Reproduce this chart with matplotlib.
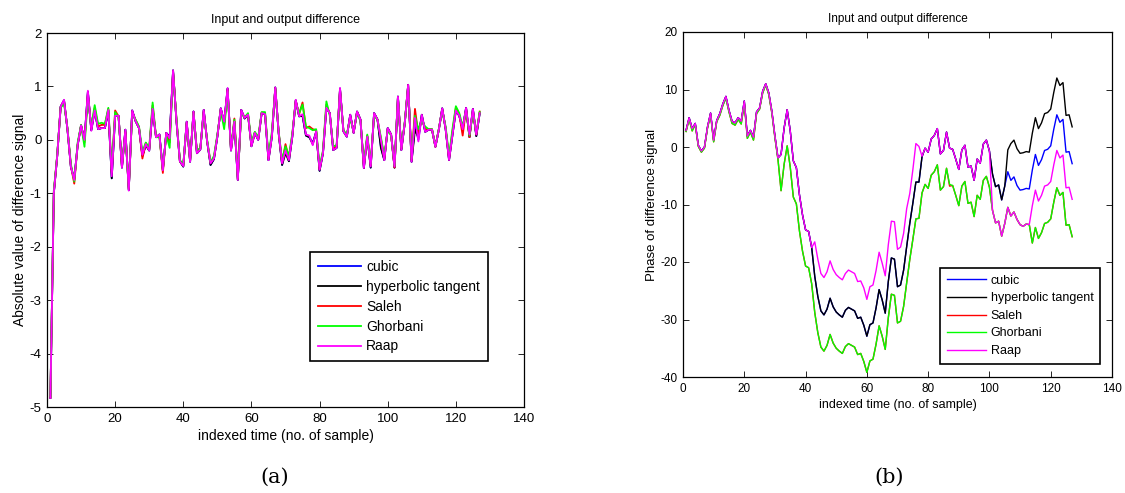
import matplotlib
matplotlib.use("Agg")
import matplotlib.pyplot as plt

plt.rcParams['font.family'] = ['Liberation Sans', 'DejaVu Sans']
plt.rcParams['axes.unicode_minus'] = False

# ---------------- data ----------------
sample_idx = list(range(1, 128))
series_names = ["cubic", "hyperbolic tangent", "Saleh", "Ghorbani", "Raap"]
series_colors = ["#0000ff", "#000000", "#ff0000", "#00ff00", "#ff00ff"]

# (a) absolute value of difference signal
cubic_abs = [
    -4.83, -1.00, -0.30, 0.62, 0.74, 0.20, -0.50, -0.74, -0.10, 0.27,
    0.00, 0.90, 0.18, 0.55, 0.20, 0.22, 0.22, 0.55, -0.72, 0.45,
    0.45, -0.52, 0.19, -0.94, 0.55, 0.35, 0.22, -0.30, -0.10, -0.20,
    0.58, 0.05, 0.10, -0.57, 0.13, 0.05, 1.30, 0.35, -0.40, -0.50,
    0.34, -0.41, 0.53, -0.25, -0.18, 0.56, -0.03, -0.47, -0.36, 0.06,
    0.59, 0.32, 0.96, -0.20, 0.34, -0.75, 0.56, 0.40, 0.47, -0.12,
    0.13, 0.00, 0.50, 0.48, -0.38, 0.06, 0.98, 0.12, -0.47, -0.18,
    -0.40, 0.06, 0.74, 0.44, 0.45, 0.08, 0.05, -0.06, 0.15, -0.58,
    -0.25, 0.60, 0.50, -0.19, -0.15, 0.96, 0.16, 0.06, 0.47, 0.13,
    0.53, 0.38, -0.53, 0.06, -0.52, 0.50, 0.38, -0.13, -0.38, 0.22,
    0.10, -0.52, 0.81, -0.19, 0.31, 1.03, -0.41, 0.28, 0.00, 0.47,
    0.15, 0.19, 0.19, -0.13, 0.19, 0.59, 0.20, -0.38, 0.09, 0.55,
    0.45, 0.20, 0.60, 0.05, 0.58, 0.07, 0.50]
tanh_abs = [
    -4.83, -1.00, -0.30, 0.62, 0.74, 0.20, -0.50, -0.74, -0.10, 0.27,
    0.00, 0.90, 0.18, 0.55, 0.20, 0.22, 0.22, 0.55, -0.72, 0.45,
    0.45, -0.52, 0.19, -0.94, 0.55, 0.35, 0.22, -0.30, -0.10, -0.20,
    0.58, 0.05, 0.10, -0.57, 0.13, 0.05, 1.30, 0.35, -0.40, -0.50,
    0.34, -0.41, 0.53, -0.25, -0.18, 0.56, -0.03, -0.47, -0.36, 0.06,
    0.59, 0.32, 0.96, -0.20, 0.34, -0.75, 0.56, 0.40, 0.47, -0.12,
    0.13, 0.00, 0.50, 0.48, -0.38, 0.06, 0.98, 0.12, -0.47, -0.25,
    -0.40, 0.06, 0.74, 0.44, 0.45, 0.08, 0.05, -0.08, 0.15, -0.58,
    -0.25, 0.60, 0.50, -0.19, -0.15, 0.96, 0.16, 0.06, 0.47, 0.13,
    0.53, 0.38, -0.53, 0.06, -0.52, 0.50, 0.38, -0.15, -0.38, 0.22,
    0.10, -0.52, 0.81, -0.19, 0.31, 1.03, -0.41, 0.19, 0.05, 0.47,
    0.15, 0.19, 0.19, -0.13, 0.19, 0.59, 0.20, -0.38, 0.09, 0.55,
    0.45, 0.20, 0.60, 0.05, 0.58, 0.07, 0.50]
saleh_abs = [
    -4.82, -0.98, -0.29, 0.61, 0.72, 0.21, -0.48, -0.82, -0.08, 0.27,
    -0.05, 0.85, 0.22, 0.60, 0.25, 0.28, 0.28, 0.58, -0.60, 0.55,
    0.44, -0.50, 0.15, -0.92, 0.52, 0.37, 0.24, -0.35, -0.06, -0.18,
    0.65, 0.05, 0.08, -0.62, 0.12, -0.05, 1.28, 0.38, -0.40, -0.48,
    0.32, -0.40, 0.52, -0.22, -0.16, 0.53, -0.02, -0.43, -0.33, 0.08,
    0.57, 0.28, 0.94, -0.18, 0.40, -0.73, 0.53, 0.42, 0.48, -0.10,
    0.14, 0.02, 0.51, 0.50, -0.35, 0.10, 0.97, 0.14, -0.42, -0.08,
    -0.35, 0.10, 0.73, 0.48, 0.70, 0.22, 0.25, 0.20, 0.18, -0.55,
    -0.22, 0.66, 0.48, -0.15, -0.12, 0.94, 0.17, 0.08, 0.44, 0.14,
    0.52, 0.37, -0.50, 0.08, -0.48, 0.48, 0.38, 0.02, -0.35, 0.20,
    0.09, -0.52, 0.80, -0.17, 0.32, 1.02, -0.38, 0.58, 0.10, 0.40,
    0.20, 0.20, 0.20, -0.13, 0.20, 0.57, 0.22, -0.35, 0.15, 0.60,
    0.48, 0.08, 0.58, 0.05, 0.55, 0.10, 0.53]
ghorbani_abs = [
    -4.80, -0.95, -0.28, 0.60, 0.68, 0.22, -0.45, -0.78, -0.05, 0.28,
    -0.13, 0.80, 0.25, 0.65, 0.30, 0.32, 0.30, 0.60, -0.55, 0.52,
    0.42, -0.45, 0.10, -0.88, 0.50, 0.38, 0.25, -0.22, -0.05, -0.15,
    0.70, 0.05, 0.05, -0.55, 0.10, -0.15, 1.25, 0.40, -0.38, -0.45,
    0.30, -0.38, 0.50, -0.20, -0.15, 0.50, 0.00, -0.42, -0.30, 0.10,
    0.55, 0.20, 0.90, -0.15, 0.38, -0.70, 0.50, 0.42, 0.50, -0.05,
    0.15, 0.05, 0.52, 0.52, -0.30, 0.15, 0.95, 0.15, -0.38, -0.12,
    -0.30, 0.12, 0.70, 0.50, 0.66, 0.25, 0.22, 0.18, 0.20, -0.50,
    -0.20, 0.72, 0.45, -0.12, -0.10, 0.90, 0.18, 0.10, 0.40, 0.15,
    0.50, 0.35, -0.45, 0.10, -0.45, 0.45, 0.38, 0.05, -0.30, 0.18,
    0.08, -0.48, 0.78, -0.15, 0.33, 1.00, -0.35, 0.45, 0.20, 0.35,
    0.25, 0.20, 0.20, -0.12, 0.20, 0.55, 0.25, -0.30, 0.20, 0.63,
    0.50, 0.25, 0.55, 0.08, 0.52, 0.12, 0.52]
raap_abs = [
    -4.83, -1.00, -0.30, 0.62, 0.75, 0.20, -0.50, -0.75, -0.10, 0.27,
    0.00, 0.92, 0.17, 0.55, 0.20, 0.22, 0.22, 0.56, -0.68, 0.45,
    0.45, -0.52, 0.19, -0.95, 0.55, 0.35, 0.22, -0.28, -0.08, -0.20,
    0.58, 0.05, 0.10, -0.57, 0.13, 0.03, 1.30, 0.35, -0.40, -0.49,
    0.34, -0.41, 0.53, -0.25, -0.18, 0.56, -0.03, -0.44, -0.35, 0.06,
    0.59, 0.34, 0.97, -0.20, 0.34, -0.75, 0.56, 0.41, 0.47, -0.12,
    0.13, 0.00, 0.50, 0.48, -0.38, 0.06, 0.98, 0.13, -0.44, -0.20,
    -0.38, 0.06, 0.75, 0.44, 0.48, 0.10, 0.08, -0.10, 0.16, -0.56,
    -0.25, 0.60, 0.50, -0.19, -0.15, 0.97, 0.16, 0.06, 0.47, 0.13,
    0.53, 0.38, -0.53, 0.06, -0.50, 0.50, 0.38, 0.00, -0.38, 0.22,
    0.10, -0.50, 0.81, -0.19, 0.31, 1.03, -0.41, 0.41, -0.03, 0.47,
    0.15, 0.19, 0.19, -0.13, 0.19, 0.59, 0.20, -0.38, 0.09, 0.55,
    0.45, 0.20, 0.60, 0.10, 0.58, 0.10, 0.50]

# (b) phase of difference signal
cubic_ph = [
    2.9, 5.1, 3.2, 4.1, 0.3, -0.7, 0.0, 3.5, 5.9, 1.2,
    4.6, 5.8, 7.5, 8.8, 6.4, 4.5, 4.2, 5.1, 4.5, 8.0,
    1.9, 2.9, 1.7, 6.1, 6.8, 9.7, 11.0, 9.4, 6.2, 1.9,
    -1.9, -1.3, 3.3, 6.5, 2.8, -2.4, -3.6, -8.3, -11.8, -14.4,
    -14.7, -17.5, -22.5, -26.0, -28.5, -29.2, -28.2, -26.3, -27.8, -28.7,
    -29.2, -29.6, -28.4, -27.9, -28.2, -28.5, -29.8, -29.6, -31.0, -32.9,
    -30.9, -30.6, -28.0, -24.8, -26.6, -28.9, -23.4, -19.3, -19.5, -24.3,
    -24.0, -21.4, -17.3, -13.3, -9.8, -6.1, -6.1, -1.7, -0.2, -0.9,
    1.4, 2.0, 3.2, -1.2, -0.6, 2.6, -0.2, -0.4, -2.1, -3.9,
    -0.5, 0.3, -3.5, -3.3, -5.8, -2.1, -2.8, 0.5, 1.2, -0.7,
    -4.7, -6.9, -6.6, -9.2, -6.8, -4.3, -5.8, -5.2, -6.7, -7.5,
    -7.4, -7.2, -7.3, -4.0, -1.3, -3.2, -2.2, -0.6, -0.4, 0.2,
    3.1, 5.6, 4.3, 4.8, -0.9, -0.8, -2.9]
tanh_ph = [
    2.9, 5.1, 3.2, 4.1, 0.3, -0.7, 0.0, 3.5, 5.9, 1.2,
    4.6, 5.8, 7.5, 8.8, 6.4, 4.5, 4.2, 5.1, 4.5, 8.0,
    1.9, 2.9, 1.7, 6.1, 6.8, 9.7, 11.0, 9.4, 6.2, 1.9,
    -1.9, -1.3, 3.3, 6.5, 2.8, -2.4, -3.6, -8.3, -11.8, -14.4,
    -14.7, -17.5, -22.5, -26.0, -28.5, -29.2, -28.2, -26.3, -27.8, -28.7,
    -29.2, -29.6, -28.4, -27.9, -28.2, -28.5, -29.8, -29.6, -31.0, -32.9,
    -30.9, -30.6, -28.0, -24.8, -26.6, -28.9, -23.4, -19.3, -19.5, -24.3,
    -24.0, -21.4, -17.3, -13.3, -9.8, -6.1, -6.1, -1.7, -0.2, -0.9,
    1.4, 2.0, 3.2, -1.2, -0.6, 2.6, -0.2, -0.4, -2.1, -3.9,
    -0.5, 0.3, -3.5, -3.3, -5.8, -2.1, -2.8, 0.5, 1.2, -0.7,
    -4.7, -6.9, -6.6, -9.2, -6.8, -0.5, 0.6, 1.2, -0.3, -1.1,
    -1.0, -0.8, -0.9, 2.4, 5.1, 3.2, 4.2, 5.8, 6.0, 6.6,
    9.5, 12.0, 10.7, 11.2, 5.5, 5.6, 3.5]
saleh_ph = [
    2.7, 4.8, 2.8, 3.9, 0.1, -0.9, -0.2, 3.3, 5.6, 0.9,
    4.4, 5.5, 7.2, 8.5, 6.1, 4.1, 3.8, 4.8, 4.0, 7.6,
    1.5, 2.6, 1.2, 5.8, 6.6, 9.4, 10.8, 9.1, 5.9, 1.6,
    -2.2, -7.6, -3.0, 0.2, -3.5, -8.7, -9.9, -14.6, -18.1, -20.7,
    -21.0, -23.8, -28.8, -32.3, -34.8, -35.5, -34.5, -32.6, -34.1, -35.0,
    -35.5, -35.9, -34.7, -34.2, -34.5, -34.8, -36.1, -35.9, -37.3, -39.2,
    -37.2, -36.9, -34.3, -31.1, -32.9, -35.2, -29.7, -25.6, -25.8, -30.6,
    -30.3, -27.7, -23.6, -19.6, -16.1, -12.5, -12.4, -8.0, -6.5, -7.2,
    -4.9, -4.3, -3.1, -7.5, -6.9, -3.7, -6.8, -6.7, -8.4, -10.2,
    -6.8, -6.0, -9.8, -9.6, -12.1, -8.4, -9.1, -5.8, -5.1, -7.0,
    -11.0, -13.2, -12.9, -15.5, -13.3, -10.5, -12.0, -11.3, -12.6, -13.5,
    -13.8, -13.4, -13.5, -16.7, -14.0, -15.9, -14.9, -13.3, -13.1, -12.5,
    -9.6, -7.1, -8.4, -7.9, -13.6, -13.5, -15.6]
ghorbani_ph = [
    2.7, 4.8, 2.8, 3.9, 0.1, -0.9, -0.2, 3.3, 5.6, 0.9,
    4.4, 5.5, 7.2, 8.5, 6.1, 4.1, 3.8, 4.8, 4.0, 7.6,
    1.5, 2.6, 1.2, 5.8, 6.6, 9.4, 10.8, 9.1, 5.9, 1.6,
    -2.2, -7.6, -3.0, 0.2, -3.5, -8.7, -9.9, -14.6, -18.1, -20.7,
    -21.0, -23.8, -28.8, -32.3, -34.8, -35.5, -34.5, -32.6, -34.1, -35.0,
    -35.5, -35.9, -34.7, -34.2, -34.5, -34.8, -36.1, -35.9, -37.3, -39.2,
    -37.2, -36.9, -34.3, -31.1, -32.9, -35.2, -29.7, -25.6, -25.8, -30.6,
    -30.3, -27.7, -23.6, -19.6, -16.1, -12.5, -12.4, -8.0, -6.5, -7.2,
    -4.9, -4.3, -3.1, -7.5, -6.9, -3.7, -6.5, -6.7, -8.4, -10.2,
    -6.8, -6.0, -9.8, -9.6, -12.1, -8.4, -9.1, -5.8, -5.1, -7.0,
    -11.0, -13.2, -12.9, -15.5, -13.3, -10.5, -12.0, -11.3, -12.6, -13.5,
    -13.8, -13.4, -13.5, -16.7, -14.0, -15.9, -14.9, -13.3, -13.1, -12.5,
    -9.6, -7.1, -8.4, -7.9, -13.6, -13.5, -15.6]
raap_ph = [
    2.9, 5.1, 3.2, 4.1, 0.3, -0.7, 0.0, 3.5, 5.9, 1.2,
    4.6, 5.8, 7.5, 8.8, 6.4, 4.5, 4.2, 5.1, 4.5, 8.0,
    1.9, 2.9, 1.7, 6.1, 6.8, 9.7, 11.0, 9.4, 6.2, 1.9,
    -1.9, -1.3, 3.3, 6.5, 2.8, -2.4, -3.6, -8.3, -11.8, -14.4,
    -14.7, -17.5, -16.5, -19.5, -22.0, -22.7, -21.7, -19.8, -21.3, -22.2,
    -22.7, -23.1, -22.0, -21.4, -21.7, -22.0, -23.4, -23.3, -24.5, -26.5,
    -24.3, -24.0, -21.5, -18.3, -20.2, -22.4, -17.0, -12.9, -13.0, -17.8,
    -17.4, -15.0, -10.7, -8.1, -4.0, 0.6, 0.1, -1.6, -0.2, -0.9,
    1.4, 2.0, 3.2, -1.2, -0.6, 2.6, -0.2, -0.4, -2.1, -3.9,
    -0.5, 0.3, -3.5, -3.3, -5.8, -2.1, -2.8, 0.5, 1.2, -0.7,
    -11.0, -13.2, -12.9, -15.5, -13.3, -10.5, -12.0, -11.3, -12.6, -13.5,
    -13.8, -13.4, -13.5, -10.2, -7.5, -9.4, -8.4, -6.8, -6.6, -6.0,
    -3.1, -0.6, -1.9, -1.4, -7.1, -7.0, -9.1]

x_ticks = [0, 20, 40, 60, 80, 100, 120, 140]
abs_yticks = [-5, -4, -3, -2, -1, 0, 1, 2]
ph_yticks = [-40, -30, -20, -10, 0, 10, 20]

title_text = "Input and output difference"
xlabel_text = "indexed time (no. of sample)"
abs_ylabel = "Absolute value of difference signal"
ph_ylabel = "Phase of difference signal"
captions = ["(a)", "(b)"]

# ---------------- figure ----------------
W, H = 1125, 493
fig = plt.figure(figsize=(W / 100, H / 100), dpi=100)
fig.patch.set_facecolor("white")


def px_axes(x0, y0, x1, y1):
    return fig.add_axes([x0 / W, 1 - y1 / H, (x1 - x0) / W, (y1 - y0) / H])


def style(ax, fs_tick):
    ax.tick_params(direction="in", length=4, width=0.6, top=True, right=True,
                   labelsize=fs_tick, pad=4)
    for s in ax.spines.values():
        s.set_linewidth(0.9)
        s.set_color("black")


# left panel
axa = px_axes(47, 33, 524, 407)
abs_series = [cubic_abs, tanh_abs, saleh_abs, ghorbani_abs, raap_abs]
for name, col, ys in zip(series_names, series_colors, abs_series):
    axa.plot(sample_idx, ys, color=col, lw=1.3, label=name)
axa.set_xlim(0, 140)
axa.set_ylim(-5, 2)
axa.set_xticks(x_ticks)
axa.set_yticks(abs_yticks)
style(axa, 9.5)
axa.set_title(title_text, fontsize=9, pad=7)
axa.set_xlabel(xlabel_text, fontsize=10, labelpad=3)
axa.set_ylabel(abs_ylabel, fontsize=10, labelpad=2)
leg = axa.legend(loc="lower left", bbox_to_anchor=(310 / W, 1 - 361 / H),
                 bbox_transform=fig.transFigure, fontsize=10, frameon=True,
                 fancybox=False, framealpha=1, edgecolor="black",
                 handlelength=3.1, handletextpad=0.4, labelspacing=0.42,
                 borderpad=0.55, borderaxespad=0)
leg.get_frame().set_linewidth(1.2)

# right panel
axb = px_axes(683, 32, 1112, 377)
ph_series = [cubic_ph, tanh_ph, saleh_ph, ghorbani_ph, raap_ph]
for name, col, ys in zip(series_names, series_colors, ph_series):
    axb.plot(sample_idx, ys, color=col, lw=1.0, label=name)
axb.set_xlim(0, 140)
axb.set_ylim(-40, 20)
axb.set_xticks(x_ticks)
axb.set_yticks(ph_yticks)
style(axb, 8.5)
axb.set_title(title_text, fontsize=8.5, pad=7)
axb.set_xlabel(xlabel_text, fontsize=9, labelpad=3)
axb.set_ylabel(ph_ylabel, fontsize=9.5, labelpad=2)
legb = axb.legend(loc="lower left", bbox_to_anchor=(940 / W, 1 - 364 / H),
                  bbox_transform=fig.transFigure, fontsize=9, frameon=True,
                  fancybox=False, framealpha=1, edgecolor="black",
                  handlelength=3.1, handletextpad=0.4, labelspacing=0.45,
                  borderpad=0.55, borderaxespad=0)
legb.get_frame().set_linewidth(1.2)

fig.text(275 / W, 1 - 477 / H, captions[0], ha="center", va="center",
         fontsize=15, family="DejaVu Serif")
fig.text(889 / W, 1 - 477 / H, captions[1], ha="center", va="center",
         fontsize=15, family="DejaVu Serif")

fig.savefig("out.png", dpi=100)
